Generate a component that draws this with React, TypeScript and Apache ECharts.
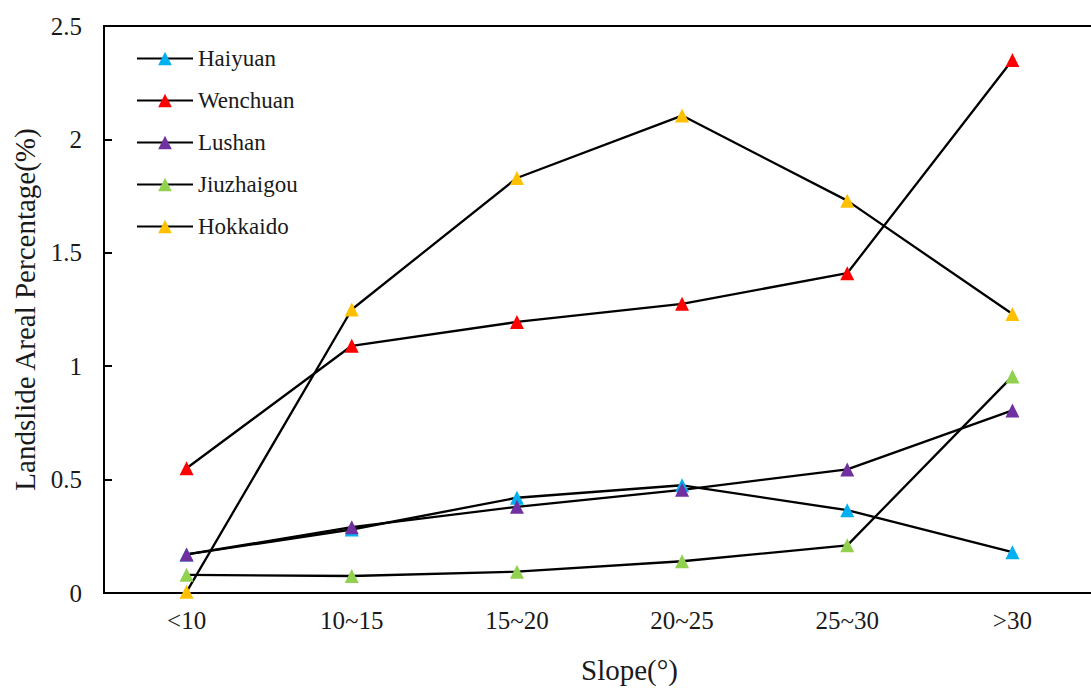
import React, { useEffect, useRef } from "react";
import * as echarts from "echarts";

const categories = ["<10", "10~15", "15~20", "20~25", "25~30", ">30"];
const haiyuan = [0.17, 0.28, 0.42, 0.475, 0.365, 0.18];
const wenchuan = [0.55, 1.09, 1.195, 1.275, 1.41, 2.35];
const lushan = [0.17, 0.29, 0.38, 0.455, 0.545, 0.805];
const jiuzhaigou = [0.08, 0.075, 0.094, 0.14, 0.21, 0.955];
const hokkaido = [0.005, 1.25, 1.83, 2.105, 1.73, 1.23];

const seriesNames = ["Haiyuan", "Wenchuan", "Lushan", "Jiuzhaigou", "Hokkaido"];
const seriesColors = ["#00B0F0", "#FF0000", "#7030A0", "#92D050", "#FFC000"];
const seriesData = [haiyuan, wenchuan, lushan, jiuzhaigou, hokkaido];

const FONT = "Liberation Serif";

export default function App() {
  const ref = useRef<HTMLDivElement>(null);
  useEffect(() => {
    if (!ref.current) return;
    const chart = echarts.init(ref.current, undefined, { renderer: "svg" });
    const legendText = { fontFamily: FONT, fontSize: 23, color: "#1a1a1a" };
    chart.setOption({
      animation: false,
      backgroundColor: "#ffffff",
      textStyle: { fontFamily: FONT },
      grid: {
        left: 104,
        top: 26,
        bottom: 96,
        width: 991,
        outerBoundsMode: "none",
        containLabel: false,
        show: true,
        borderColor: "#000",
        borderWidth: 2,
        backgroundColor: "transparent",
      },
      legend: {
        orient: "vertical",
        left: 131,
        top: 42,
        itemWidth: 56,
        itemHeight: 17,
        itemGap: 19,
        textStyle: legendText,
        data: seriesNames.map((name) => ({ name, textStyle: legendText })),
      },
      xAxis: {
        type: "category",
        data: categories,
        boundaryGap: true,
        name: "Slope(°)",
        nameLocation: "middle",
        nameGap: 62,
        nameTextStyle: { fontFamily: FONT, fontSize: 29, color: "#1a1a1a", padding: [0, 0, 0, 60] },
        axisLine: { lineStyle: { color: "#000", width: 2 } },
        axisTick: { inside: true, length: 8, lineStyle: { color: "#000", width: 2 } },
        axisLabel: { fontFamily: FONT, fontSize: 25, color: "#1a1a1a", margin: 15 },
        splitLine: { show: false },
      },
      yAxis: {
        type: "value",
        min: 0,
        max: 2.5,
        interval: 0.5,
        name: "Landslide Areal Percentage(%)",
        nameLocation: "middle",
        nameGap: 62,
        nameTextStyle: { fontFamily: FONT, fontSize: 29, color: "#1a1a1a" },
        axisLine: { show: true, lineStyle: { color: "#000", width: 2 } },
        axisTick: { show: true, inside: true, length: 8, lineStyle: { color: "#000", width: 2 } },
        axisLabel: { fontFamily: FONT, fontSize: 25, color: "#1a1a1a", margin: 22 },
        splitLine: { show: false },
      },
      series: seriesNames.map((name, i) => ({
        name,
        type: "line",
        data: seriesData[i],
        symbol: "triangle",
        symbolSize: 14,
        lineStyle: { color: "#000", width: 2.3 },
        itemStyle: { color: seriesColors[i] },
        emphasis: { disabled: true },
      })),
    });
    return () => chart.dispose();
  }, []);
  return (
    <div style={{ width: 1091, height: 689, position: "absolute", left: 0, top: 0, overflow: "hidden", background: "#fff" }}>
      <div ref={ref} style={{ width: 1110, height: 689 }} />
    </div>
  );
}
